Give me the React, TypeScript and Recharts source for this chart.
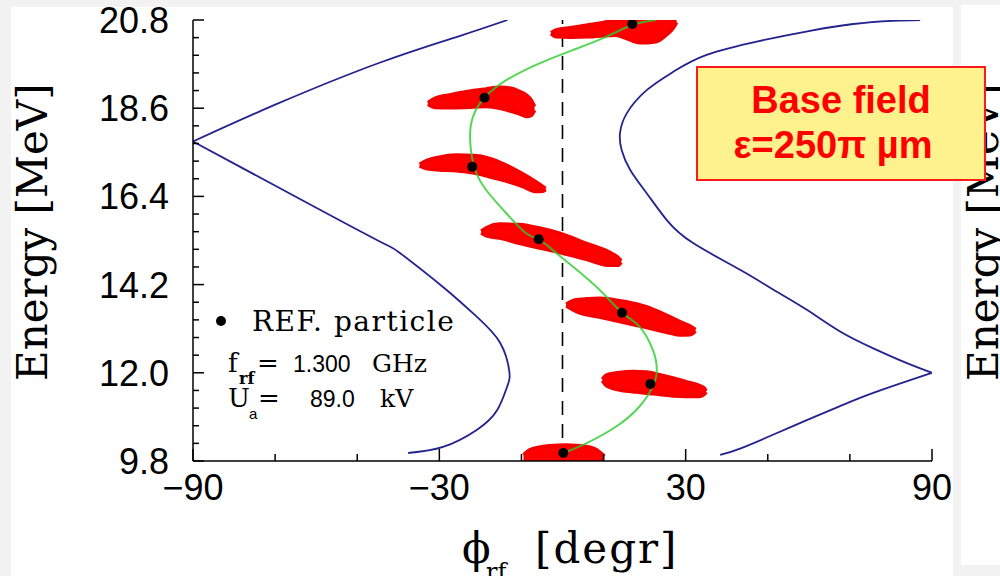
import { Area, ComposedChart, Line, Scatter, XAxis, YAxis } from "recharts";

// axis ticks (phase in degrees, energy in MeV)
const X_TICKS = [-90, -70, -50, -30, -10, 10, 30, 50, 70, 90];
const X_LABELS = [-90, -30, 30, 90];
const Y_TICKS = [
  9.8, 10.24, 10.68, 11.12, 11.56, 12, 12.44, 12.88, 13.32, 13.76, 14.2,
  14.64, 15.08, 15.52, 15.96, 16.4, 16.84, 17.28, 17.72, 18.16, 18.6, 19.04,
  19.48, 19.92, 20.36, 20.8,
];
const Y_LABELS = [9.8, 12, 14.2, 16.4, 18.6, 20.8];

// separatrix branches
const SEP_UPPER_LEFT = [
  { x: -90, y: 17.77 },
  { x: -69.7, y: 18.7 },
  { x: -44.4, y: 19.74 },
  { x: -25.1, y: 20.4 },
  { x: -13.4, y: 20.8 },
];
const SEP_LOWER_LEFT = [
  { x: -90, y: 17.77 },
  { x: -63.5, y: 16.31 },
  { x: -44.4, y: 15.27 },
  { x: -39.6, y: 14.99 },
  { x: -29.1, y: 14.14 },
  { x: -20.8, y: 13.39 },
  { x: -15.2, y: 12.75 },
  { x: -12.95, y: 12.03 },
  { x: -13.5, y: 11.65 },
  { x: -15.9, y: 11.07 },
  { x: -20.8, y: 10.58 },
  { x: -29.1, y: 10.15 },
  { x: -37.6, y: 10.0 },
];
const SEP_UPPER_RIGHT = [
  { x: 87.1, y: 20.8 },
  { x: 80.5, y: 20.78 },
  { x: 70.8, y: 20.7 },
  { x: 60.3, y: 20.53 },
  { x: 48.1, y: 20.28 },
  { x: 35.1, y: 19.93 },
  { x: 27.0, y: 19.51 },
  { x: 20.5, y: 19.05 },
  { x: 15.65, y: 18.47 },
  { x: 14.0, y: 17.97 },
  { x: 14.4, y: 17.56 },
  { x: 16.5, y: 17.06 },
  { x: 20.5, y: 16.48 },
  { x: 25.4, y: 15.81 },
  { x: 31.9, y: 15.23 },
  { x: 43.25, y: 14.57 },
  { x: 51.4, y: 14.07 },
  { x: 59.5, y: 13.57 },
  { x: 67.6, y: 13.03 },
  { x: 75.7, y: 12.61 },
  { x: 83.9, y: 12.24 },
  { x: 90, y: 12.0 },
];
const SEP_LOWER_RIGHT = [
  { x: 90, y: 12.0 },
  { x: 75.7, y: 11.5 },
  { x: 67.6, y: 11.17 },
  { x: 59.5, y: 10.82 },
  { x: 51.4, y: 10.46 },
  { x: 43.25, y: 10.11 },
  { x: 38.4, y: 9.95 },
];

const SYNC_PHASE = [
  { x: 0, y: 9.8 },
  { x: 0, y: 20.8 },
];

// bunch outlines: lower / upper energy at each phase
const BUNCH_1 = [
  { x: -2.8, lo: 20.46, hi: 20.48 },
  { x: -1.5, lo: 20.38, hi: 20.55 },
  { x: 2, lo: 20.37, hi: 20.61 },
  { x: 6.5, lo: 20.38, hi: 20.68 },
  { x: 10, lo: 20.41, hi: 20.74 },
  { x: 13, lo: 20.42, hi: 20.79 },
  { x: 15.5, lo: 20.34, hi: 20.82 },
  { x: 18.8, lo: 20.23, hi: 20.87 },
  { x: 22.8, lo: 20.26, hi: 20.92 },
  { x: 25.3, lo: 20.43, hi: 20.91 },
  { x: 27, lo: 20.6, hi: 20.88 },
  { x: 27.8, lo: 20.74, hi: 20.8 },
];
const BUNCH_2 = [
  { x: -32.8, lo: 18.7, hi: 18.74 },
  { x: -31, lo: 18.62, hi: 18.85 },
  { x: -27, lo: 18.61, hi: 18.94 },
  { x: -23.5, lo: 18.62, hi: 19.01 },
  { x: -18.6, lo: 18.64, hi: 19.08 },
  { x: -15.3, lo: 18.6, hi: 19.12 },
  { x: -12.5, lo: 18.52, hi: 19.1 },
  { x: -10.5, lo: 18.46, hi: 19.02 },
  { x: -8.8, lo: 18.39, hi: 18.93 },
  { x: -7.6, lo: 18.42, hi: 18.8 },
  { x: -6.8, lo: 18.55, hi: 18.64 },
];
const BUNCH_3 = [
  { x: -34.8, lo: 17.16, hi: 17.2 },
  { x: -33, lo: 17.09, hi: 17.3 },
  { x: -30, lo: 17.06, hi: 17.38 },
  { x: -25.9, lo: 17.04, hi: 17.43 },
  { x: -21.5, lo: 16.98, hi: 17.42 },
  { x: -17.8, lo: 16.89, hi: 17.35 },
  { x: -13.7, lo: 16.78, hi: 17.18 },
  { x: -10, lo: 16.66, hi: 16.98 },
  { x: -6.4, lo: 16.52, hi: 16.76 },
  { x: -4.8, lo: 16.53, hi: 16.65 },
  { x: -4.1, lo: 16.57, hi: 16.6 },
];
const BUNCH_4 = [
  { x: -19.8, lo: 15.49, hi: 15.53 },
  { x: -18.3, lo: 15.41, hi: 15.63 },
  { x: -15.3, lo: 15.36, hi: 15.71 },
  { x: -10.5, lo: 15.23, hi: 15.7 },
  { x: -5.6, lo: 15.11, hi: 15.61 },
  { x: -0.7, lo: 15.0, hi: 15.48 },
  { x: 5.8, lo: 14.83, hi: 15.23 },
  { x: 11.4, lo: 14.68, hi: 15.01 },
  { x: 13.5, lo: 14.68, hi: 14.88 },
  { x: 14.3, lo: 14.76, hi: 14.79 },
];
const BUNCH_5 = [
  { x: 0.9, lo: 13.67, hi: 13.71 },
  { x: 3.3, lo: 13.53, hi: 13.82 },
  { x: 9, lo: 13.39, hi: 13.86 },
  { x: 15.5, lo: 13.24, hi: 13.77 },
  { x: 20, lo: 13.14, hi: 13.66 },
  { x: 25.3, lo: 13.01, hi: 13.44 },
  { x: 29, lo: 12.94, hi: 13.26 },
  { x: 31, lo: 12.95, hi: 13.17 },
  { x: 32.4, lo: 13.04, hi: 13.08 },
];
const BUNCH_6 = [
  { x: 9.7, lo: 11.8, hi: 11.84 },
  { x: 10.8, lo: 11.67, hi: 11.95 },
  { x: 13.9, lo: 11.57, hi: 12.01 },
  { x: 17.1, lo: 11.53, hi: 12.03 },
  { x: 20.4, lo: 11.49, hi: 12.02 },
  { x: 23.6, lo: 11.46, hi: 11.95 },
  { x: 26.9, lo: 11.42, hi: 11.87 },
  { x: 30.1, lo: 11.41, hi: 11.78 },
  { x: 33.4, lo: 11.41, hi: 11.68 },
  { x: 34.5, lo: 11.46, hi: 11.62 },
  { x: 35, lo: 11.52, hi: 11.55 },
];
const BUNCH_7 = [
  { x: -9.5, lo: 9.8, hi: 9.95 },
  { x: -8, lo: 9.75, hi: 10.08 },
  { x: -3.2, lo: 9.75, hi: 10.18 },
  { x: 0.9, lo: 9.75, hi: 10.2 },
  { x: 5.8, lo: 9.75, hi: 10.16 },
  { x: 9, lo: 9.75, hi: 10.03 },
  { x: 10.2, lo: 9.8, hi: 9.92 },
];
const BUNCHES = [BUNCH_1, BUNCH_2, BUNCH_3, BUNCH_4, BUNCH_5, BUNCH_6, BUNCH_7];

// reference particle at each snapshot
const REF_PARTICLE = [
  { x: 17.0, y: 20.7 },
  { x: -19.0, y: 18.86 },
  { x: -22.0, y: 17.14 },
  { x: -5.8, y: 15.33 },
  { x: 14.5, y: 13.5 },
  { x: 21.4, y: 11.72 },
  { x: 0.2, y: 10.0 },
];

// trajectory of the reference particle
const REF_PATH = [
  { x: 0.24, y: 10.0 },
  { x: 5.77, y: 10.24 },
  { x: 13.08, y: 10.66 },
  { x: 18.76, y: 11.16 },
  { x: 22.0, y: 11.66 },
  { x: 22.97, y: 12.07 },
  { x: 22.0, y: 12.57 },
  { x: 18.76, y: 13.15 },
  { x: 14.54, y: 13.5 },
  { x: 9.01, y: 14.07 },
  { x: 2.51, y: 14.65 },
  { x: -2.36, y: 15.06 },
  { x: -5.77, y: 15.33 },
  { x: -8.84, y: 15.48 },
  { x: -13.7, y: 15.98 },
  { x: -18.6, y: 16.56 },
  { x: -21.4, y: 17.1 },
  { x: -22.5, y: 17.81 },
  { x: -21.8, y: 18.39 },
  { x: -19.0, y: 18.86 },
  { x: -13.7, y: 19.3 },
  { x: -5.6, y: 19.72 },
  { x: 2.5, y: 20.05 },
  { x: 10.6, y: 20.38 },
  { x: 17.1, y: 20.68 },
  { x: 22.8, y: 20.8 },
];

const SERIF = "'DejaVu Serif', serif";
const SANS = "'Liberation Sans', Arial, sans-serif";
const BLUE = "#23238f";

const fmtX = (v: number) => (v < 0 ? "\u2212" + Math.abs(v) : String(v));

const BottomTick = (p: any) => {
  const v = p.payload.value;
  const major = X_LABELS.includes(v);
  return (
    <g>
      <line x1={p.x} x2={p.x} y1={p.y} y2={p.y - (major ? 12 : 7)} stroke="#000" strokeWidth={1.5} />
      {major && (
        <text x={p.x} y={p.y + 39} textAnchor="middle" fontFamily={SANS} fontSize={36} fill="#000">
          {fmtX(v)}
        </text>
      )}
    </g>
  );
};

const TopTick = (p: any) => {
  const major = X_LABELS.includes(p.payload.value);
  return <line x1={p.x} x2={p.x} y1={p.y} y2={p.y + (major ? 12 : 7)} stroke="#000" strokeWidth={1.5} />;
};

const LeftTick = (p: any) => {
  const v = p.payload.value;
  const major = Y_LABELS.includes(v);
  return (
    <g>
      <line x1={p.x} x2={p.x + (major ? 11 : 6)} y1={p.y} y2={p.y} stroke="#000" strokeWidth={1.5} />
      {major && (
        <text x={p.x - 24} y={p.y} dy="0.36em" textAnchor="end" fontFamily={SANS} fontSize={36} fill="#000">
          {v.toFixed(1)}
        </text>
      )}
    </g>
  );
};

const RightTick = (p: any) => {
  const major = Y_LABELS.includes(p.payload.value);
  return <line x1={p.x} x2={p.x - (major ? 11 : 6)} y1={p.y} y2={p.y} stroke="#000" strokeWidth={1.5} />;
};

const frame = { stroke: "#000", strokeWidth: 1.5 };

export default function App() {
  return (
    <div
      style={{
        position: "absolute",
        left: 0,
        top: 0,
        width: 1000,
        height: 576,
        background: "#f2f2f2",
        overflow: "hidden",
      }}
    >
      <div style={{ position: "absolute", left: 11, top: 7, width: 942, height: 569, background: "#fff" }} />
      <div style={{ position: "absolute", left: 961, top: 5, width: 39, height: 560, background: "#fff" }} />

      <div style={{ position: "absolute", left: 0, top: 0 }}>
        <ComposedChart width={1000} height={576} margin={{ top: 20, right: 68, bottom: 0, left: 0 }}>
          <XAxis
            dataKey="x"
            type="number"
            domain={[-90, 90]}
            allowDataOverflow
            ticks={X_TICKS}
            interval={0}
            height={115}
            tickSize={0}
            tickMargin={0}
            tickLine={false}
            axisLine={frame}
            tick={BottomTick}
          />
          <XAxis
            xAxisId="top"
            orientation="top"
            dataKey="x"
            type="number"
            domain={[-90, 90]}
            allowDataOverflow
            ticks={X_TICKS}
            interval={0}
            height={0}
            tickSize={0}
            tickMargin={0}
            tickLine={false}
            axisLine={frame}
            tick={TopTick}
          />
          <YAxis
            type="number"
            domain={[9.8, 20.8]}
            allowDataOverflow
            ticks={Y_TICKS}
            interval={0}
            width={193}
            tickSize={0}
            tickMargin={0}
            tickLine={false}
            axisLine={frame}
            tick={LeftTick}
          />
          <YAxis
            yAxisId="right"
            orientation="right"
            type="number"
            domain={[9.8, 20.8]}
            allowDataOverflow
            ticks={Y_TICKS}
            interval={0}
            width={0}
            tickSize={0}
            tickMargin={0}
            tickLine={false}
            axisLine={frame}
            tick={RightTick}
          />

          <Line
            data={SYNC_PHASE}
            dataKey="y"
            type="linear"
            stroke="#000"
            strokeWidth={1.6}
            strokeDasharray="14 9"
            dot={false}
            activeDot={false}
            isAnimationActive={false}
            zIndex={50}
          />
          {[SEP_UPPER_LEFT, SEP_LOWER_LEFT, SEP_UPPER_RIGHT, SEP_LOWER_RIGHT].map((d, i) => (
            <Line
              key={"s" + i}
              data={d}
              dataKey="y"
              type="natural"
              stroke={BLUE}
              strokeWidth={1.8}
              dot={false}
              activeDot={false}
              isAnimationActive={false}
            />
          ))}
          {BUNCHES.map((d, i) => (
            <Area
              key={"b" + i}
              data={d}
              dataKey={(e: any) => [e.lo, e.hi]}
              type="monotone"
              fill="#ff0000"
              fillOpacity={1}
              stroke="#f40000"
              strokeWidth={3.5}
              strokeLinejoin="round"
              dot={false}
              activeDot={false}
              isAnimationActive={false}
              zIndex={100}
            />
          ))}
          <Line
            data={REF_PATH}
            dataKey="y"
            type="natural"
            stroke="#2ccc2c"
            strokeOpacity={0.8}
            strokeWidth={2}
            dot={false}
            activeDot={false}
            isAnimationActive={false}
          />
          <Scatter
            data={REF_PARTICLE}
            dataKey="y"
            fill="#000"
            isAnimationActive={false}
            shape={(p: any) => <circle cx={p.cx} cy={p.cy} r={5} fill="#000" />}
          />
        </ComposedChart>
      </div>

      <svg width={1000} height={576} style={{ position: "absolute", left: 0, top: 0 }}>
        <text transform="translate(47,381) rotate(-90)" fontFamily={SERIF} fontSize={42} fill="#000">
          Energy [MeV]
        </text>
        <text transform="translate(998,381) rotate(-90)" fontFamily={SERIF} fontSize={42} fill="#000">
          Energy [MeV]
        </text>

        <text x={462} y={563} fontFamily={SERIF} fontSize={42} fill="#000">
          ϕ
        </text>
        <text x={486} y={580} fontFamily={SERIF} fontSize={24} fill="#000">
          rf
        </text>
        <text x={535} y={563} fontFamily={SERIF} fontSize={42} letterSpacing={2} fill="#000">
          [degr]
        </text>

        <circle cx={221} cy={321} r={5} fill="#000" />
        <text x={252} y={331} fontFamily={SERIF} fontSize={28} letterSpacing={1.5} fill="#000">
          REF. particle
        </text>
        <text x={228} y={372} fontFamily={SERIF} fontSize={26} fill="#000">
          f
        </text>
        <text x={239} y={384} fontFamily={SERIF} fontSize={16} fontWeight="bold" fill="#000">
          rf
        </text>
        <text x={257} y={372} fontFamily={SERIF} fontSize={26} fill="#000">
          =
        </text>
        <text x={293} y={372} fontFamily={SANS} fontSize={23} fill="#000">
          1.300
        </text>
        <text x={372} y={372} fontFamily={SERIF} fontSize={25} fill="#000">
          GHz
        </text>
        <text x={228} y={407} fontFamily={SERIF} fontSize={26} fill="#000">
          U
        </text>
        <text x={249} y={419} fontFamily={SANS} fontSize={15} fill="#000">
          a
        </text>
        <text x={258} y={407} fontFamily={SERIF} fontSize={26} fill="#000">
          =
        </text>
        <text x={310} y={407} fontFamily={SANS} fontSize={23} fill="#000">
          89.0
        </text>
        <text x={380} y={407} fontFamily={SERIF} fontSize={25} fill="#000">
          kV
        </text>

        <rect x={697} y={67} width={288} height={113} fill="#fdf28e" stroke="#ff1a1a" strokeWidth={2} />
        <text x={841} y={113} textAnchor="middle" fontFamily={SANS} fontSize={38} fontWeight="bold" fill="#ff0000">
          Base field
        </text>
        <text x={833} y={158} textAnchor="middle" fontFamily={SANS} fontSize={38} fontWeight="bold" fill="#ff0000">
          ε=250π µm
        </text>
      </svg>
    </div>
  );
}
